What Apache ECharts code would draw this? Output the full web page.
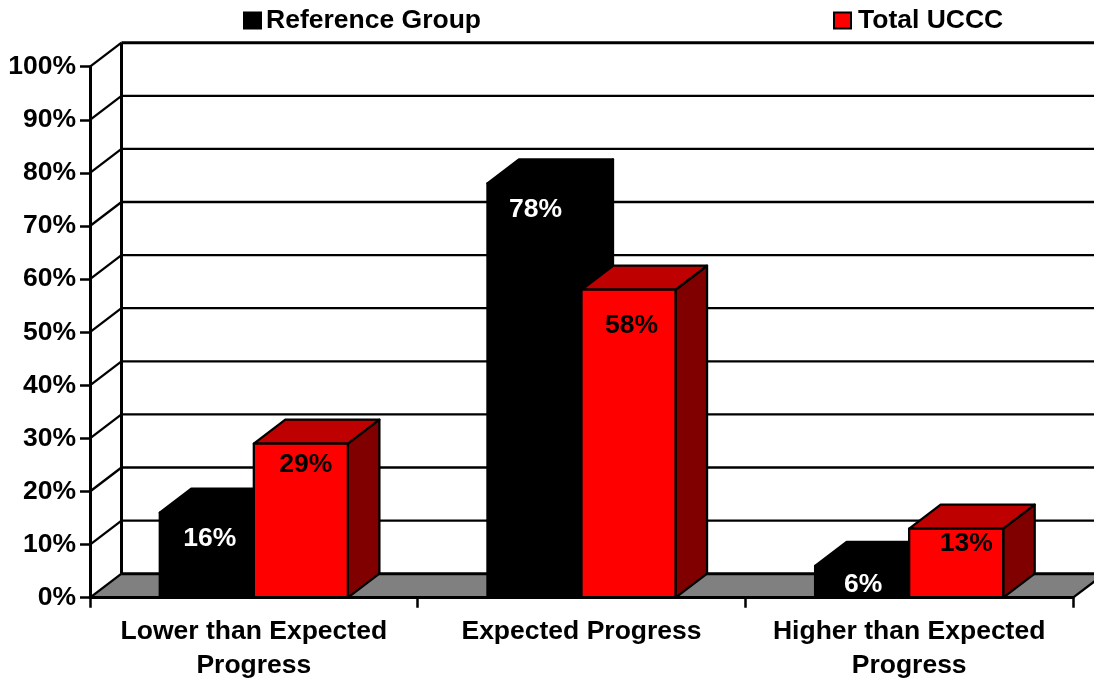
<!DOCTYPE html>
<html>
<head>
<meta charset="utf-8">
<style>html,body{margin:0;padding:0;background:#fff}#c{width:1094px;height:679px}</style>
<script src="https://cdn.jsdelivr.net/npm/echarts@6/dist/echarts.min.js"></script>
</head>
<body>
<div id="c"></div>
<script>
const categories = ['Lower than Expected\nProgress', 'Expected Progress', 'Higher than Expected\nProgress'];
const referenceGroup = [16, 78, 6];
const totalUCCC = [29, 58, 13];
const yTicks = [0, 10, 20, 30, 40, 50, 60, 70, 80, 90, 100];

const FONT = '"Liberation Sans", Arial, sans-serif';
const DEPTH = [31.5, -24];
const BAR_RATIO = 0.287;
const refLabelShift = [[3, 26], [1, 26], [1, 19]];
const uccLabelShift = [[5, 21], [3, 36], [10, 15]];

function poly(points, fill, stroke, lw) {
  return {
    type: 'polygon',
    shape: { points: points },
    style: { fill: fill, stroke: stroke || fill, lineWidth: lw === undefined ? 2.3 : lw, lineJoin: 'round' }
  };
}
function line(a, b, w) {
  return {
    type: 'line',
    shape: { x1: a[0], y1: a[1], x2: b[0], y2: b[1] },
    style: { stroke: '#000', lineWidth: w }
  };
}
function back(p) { return [p[0] + DEPTH[0], p[1] + DEPTH[1]]; }

function renderWall(params, api) {
  const v = api.value(0);
  const cs = params.coordSys;
  const y = api.coord([0, v])[1];
  const L = [cs.x, y], R = [cs.x + cs.width, y];
  const children = [];
  if (params.dataIndex === 0) {
    children.push(poly([L, back(L), back(R), R], '#808080', '#808080', 0));
    children.push(line(back([cs.x, cs.y]), back(L), 3));
    children.push(line(R, back(R), 2.3));
  }
  children.push(line(back(L), back(R), v === 100 || v === 0 ? 3 : 2.3));
  children.push(line(L, back(L), 2.3));
  return { type: 'group', children: children };
}

function makeBarRenderer(side, face, top, dark, textColor, shifts) {
  return function (params, api) {
    const i = api.value(0);
    const v = api.value(1);
    const w = api.size([1, 0])[0] * BAR_RATIO;
    const c = api.coord([i, v]);
    const b = api.coord([i, 0]);
    const x0 = side < 0 ? c[0] - w : c[0];
    const x1 = x0 + w;
    const fl = [x0, c[1]], fr = [x1, c[1]], br = [x1, b[1]], bl = [x0, b[1]];
    const s = shifts[params.dataIndex];
    return {
      type: 'group',
      children: [
        poly([fr, back(fr), back(br), br], dark, '#000'),
        poly([fl, back(fl), back(fr), fr], top, '#000'),
        poly([fl, fr, br, bl], face, '#000'),
        {
          type: 'text',
          x: (x0 + x1) / 2 + s[0],
          y: c[1] + s[1],
          style: {
            text: v + '%',
            fill: textColor,
            font: 'bold 26.5px ' + FONT,
            align: 'center',
            verticalAlign: 'middle'
          }
        }
      ]
    };
  };
}

const chart = echarts.init(document.getElementById('c'), null, { renderer: 'canvas' });
const legendBase = {
  orient: 'horizontal',
  top: 7,
  itemWidth: 17,
  itemHeight: 16,
  itemGap: 5,
  padding: 0,
  selectedMode: false,
  icon: 'rect'
};
const legendText = { fontFamily: FONT, fontWeight: 'bold', fontSize: 26.5, color: '#000' };
chart.setOption({
  animation: false,
  backgroundColor: '#fff',
  grid: { left: 90, right: 21, top: 66.7, bottom: 81.3, containLabel: false, outerBoundsMode: 'none' },
  legend: [
    Object.assign({}, legendBase, {
      left: 243, data: ['Reference Group'],
      textStyle: Object.assign({}, legendText, { padding: [0, 0, 0, 0] })
    }),
    Object.assign({}, legendBase, {
      left: 833, data: ['Total UCCC'],
      textStyle: Object.assign({}, legendText, { padding: [0, 0, 0, 2] })
    })
  ],
  xAxis: {
    type: 'category',
    data: categories,
    z: 10,
    axisLine: { lineStyle: { color: '#000', width: 3 } },
    axisTick: { show: true, length: 10, alignWithLabel: false, lineStyle: { color: '#000', width: 2.5 } },
    axisLabel: {
      fontFamily: FONT, fontWeight: 'bold', fontSize: 26.5, color: '#000',
      lineHeight: 34, margin: 17, interval: 0
    },
    splitLine: { show: false }
  },
  yAxis: {
    type: 'value',
    min: 0,
    max: 100,
    interval: 10,
    z: 10,
    axisLine: { show: true, lineStyle: { color: '#000', width: 3 } },
    axisTick: { show: true, length: 10, lineStyle: { color: '#000', width: 2.5 } },
    axisLabel: {
      formatter: '{value}%',
      fontFamily: FONT, fontWeight: 'bold', fontSize: 26.5, color: '#000', margin: 14
    },
    splitLine: { show: false }
  },
  series: [
    {
      name: 'wall',
      type: 'custom',
      z: 1,
      silent: true,
      coordinateSystem: 'cartesian2d',
      renderItem: renderWall,
      encode: { y: 0 },
      data: yTicks.map(function (t) { return [t]; })
    },
    {
      name: 'Reference Group',
      type: 'custom',
      z: 2,
      coordinateSystem: 'cartesian2d',
      itemStyle: { color: '#000', borderColor: '#000', borderWidth: 1 },
      renderItem: makeBarRenderer(-1, '#000', '#000', '#000', '#fff', refLabelShift),
      encode: { x: 0, y: 1 },
      data: referenceGroup.map(function (v, i) { return [i, v]; })
    },
    {
      name: 'Total UCCC',
      type: 'custom',
      z: 3,
      coordinateSystem: 'cartesian2d',
      itemStyle: { color: '#f00', borderColor: '#000', borderWidth: 2 },
      renderItem: makeBarRenderer(1, '#f00', '#bf0000', '#800000', '#000', uccLabelShift),
      encode: { x: 0, y: 1 },
      data: totalUCCC.map(function (v, i) { return [i, v]; })
    }
  ]
});
</script>
</body>
</html>
